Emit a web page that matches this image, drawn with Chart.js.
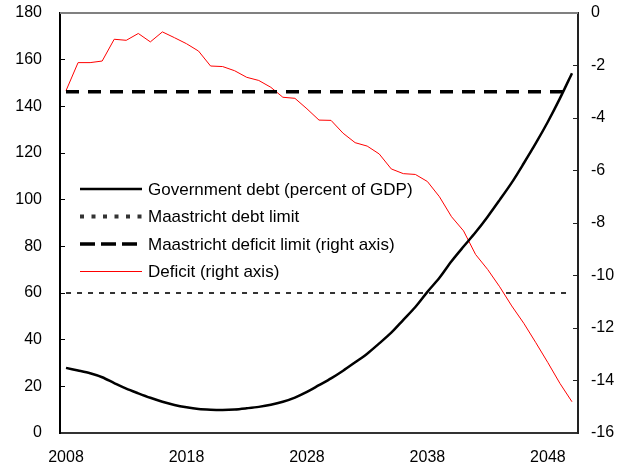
<!DOCTYPE html>
<html>
<head>
<meta charset="utf-8">
<script src="https://cdn.jsdelivr.net/npm/chart.js@4/dist/chart.umd.min.js"></script>
<style>
  html, body { margin: 0; padding: 0; background: #fff; }
  #wrap { width: 619px; height: 467px; }
</style>
</head>
<body>
<div id="wrap"><canvas id="myChart" width="619" height="467"></canvas></div>
<script>
// years on the x axis
const years = ['2008','2009','2010','2011','2012','2013','2014','2015','2016','2017',
               '2018','2019','2020','2021','2022','2023','2024','2025','2026','2027',
               '2028','2029','2030','2031','2032','2033','2034','2035','2036','2037',
               '2038','2039','2040','2041','2042','2043','2044','2045','2046','2047',
               '2048','2049','2050'];
const shownYears = ['2008','2018','2028','2038','2048'];

// government debt, percent of GDP (left axis)
const debt = [27.9, 26.8, 25.6, 23.9, 21.4, 19.0, 17.0, 15.1, 13.4, 12.0,
              11.0, 10.3, 10.0, 9.9, 10.1, 10.6, 11.2, 12.1, 13.4, 15.2,
              17.6, 20.5, 23.4, 26.7, 30.3, 34.0, 38.4, 43.0, 48.5, 54.0,
              60.5, 66.5, 73.6, 79.9, 86.0, 92.7, 99.9, 107.3, 115.6, 124.2,
              133.4, 143.4, 154.2];

// deficit (right axis)
const deficit = [-2.96, -1.89, -1.89, -1.83, -1.0, -1.04, -0.78, -1.1, -0.72, -0.94,
                 -1.17, -1.45, -2.02, -2.04, -2.2, -2.45, -2.57, -2.83, -3.21, -3.25,
                 -3.65, -4.08, -4.09, -4.58, -4.94, -5.07, -5.37, -5.94, -6.12, -6.15,
                 -6.42, -7.0, -7.76, -8.3, -9.2, -9.77, -10.43, -11.16, -11.82, -12.56,
                 -13.32, -14.11, -14.81];

const debtLimit = 60;
const deficitLimit = -3;

const seriesNames = ['Government debt (percent of GDP)', 'Maastricht debt limit',
                     'Maastricht deficit limit (right axis)', 'Deficit (right axis)'];

const FONT = '"Liberation Sans", Arial, sans-serif';

// legend drawn inside the plot, like the original
const innerLegend = {
    id: 'innerLegend',
    afterDraw(chart) {
        const ctx = chart.ctx;
        ctx.save();
        chart.data.datasets.forEach((ds, row) => {
            const y = 189 + row * 27.5;
            ctx.beginPath();
            ctx.strokeStyle = ds.borderColor;
            ctx.lineWidth = ds.legendWidth || ds.borderWidth;
            ctx.setLineDash(ds.legendDash || ds.borderDash || []);
            ctx.moveTo(80, y);
            ctx.lineTo(142, y);
            ctx.stroke();
            ctx.setLineDash([]);
            ctx.fillStyle = '#000';
            ctx.font = '17px ' + FONT;
            ctx.textBaseline = 'middle';
            ctx.textAlign = 'left';
            ctx.fillText(ds.label, 148, y + 1);
        });
        ctx.restore();
    }
};

// grey top edge of the plot frame
const topEdge = {
    id: 'topEdge',
    afterDraw(chart) {
        const a = chart.chartArea;
        const ctx = chart.ctx;
        ctx.save();
        ctx.strokeStyle = '#808080';
        ctx.lineWidth = 2;
        ctx.beginPath();
        ctx.moveTo(a.left, a.top);
        ctx.lineTo(a.right, a.top);
        ctx.stroke();
        ctx.restore();
    }
};

const ctx = document.getElementById('myChart').getContext('2d');
new Chart(ctx, {
    type: 'line',
    data: {
        labels: years,
        datasets: [
            {
                label: seriesNames[0],
                data: debt,
                yAxisID: 'y',
                borderColor: '#000',
                borderWidth: 2.5,
                tension: 0.3,
                pointRadius: 0
            },
            {
                label: seriesNames[1],
                data: years.map(() => debtLimit),
                yAxisID: 'y',
                borderColor: '#333',
                borderWidth: 2,
                borderDash: [5, 6],
                legendWidth: 4,
                legendDash: [4, 7.5],
                pointRadius: 0
            },
            {
                label: seriesNames[2],
                data: years.map(() => deficitLimit),
                yAxisID: 'y2',
                borderColor: '#000',
                borderWidth: 3.5,
                borderDash: [13, 9],
                legendDash: [15, 6],
                pointRadius: 0
            },
            {
                label: seriesNames[3],
                data: deficit,
                yAxisID: 'y2',
                borderColor: '#ff0000',
                borderWidth: 1,
                tension: 0,
                pointRadius: 0
            }
        ]
    },
    options: {
        responsive: false,
        animation: false,
        layout: { padding: { top: 13, left: 0, right: 0, bottom: 0 } },
        plugins: {
            legend: { display: false },
            tooltip: { enabled: false }
        },
        scales: {
            x: {
                type: 'category',
                offset: true,
                grid: { display: false, drawTicks: false },
                border: { color: '#333', width: 2 },
                ticks: {
                    autoSkip: false,
                    maxRotation: 0,
                    padding: 15,
                    color: '#000',
                    font: { family: FONT, size: 16 },
                    callback: function (v, i) {
                        const lab = years[i];
                        return shownYears.includes(lab) ? lab : '';
                    }
                },
                afterFit: (s) => { s.height = 34; s.paddingLeft = 0; s.paddingRight = 0; }
            },
            y: {
                position: 'left',
                min: 0,
                max: 180,
                grid: { drawOnChartArea: false, tickLength: -5, color: '#000' },
                border: { color: '#000', width: 2 },
                ticks: {
                    stepSize: 20,
                    padding: 23,
                    color: '#000',
                    font: { family: FONT, size: 16 }
                },
                afterFit: (s) => { s.width = 60; s.paddingTop = 5; s.paddingBottom = 5; }
            },
            y2: {
                position: 'right',
                min: -16,
                max: 0,
                grid: { drawOnChartArea: false, tickLength: -5, color: '#222' },
                border: { color: '#222', width: 2 },
                ticks: {
                    stepSize: 2,
                    padding: 18,
                    color: '#000',
                    font: { family: FONT, size: 16 }
                },
                afterFit: (s) => { s.width = 41; s.paddingTop = 5; s.paddingBottom = 5; }
            }
        }
    },
    plugins: [innerLegend, topEdge]
});
</script>
</body>
</html>
